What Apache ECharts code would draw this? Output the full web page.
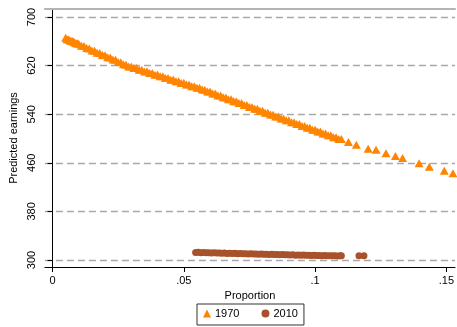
<!DOCTYPE html>
<html><head><meta charset="utf-8">
<script src="https://cdn.jsdelivr.net/npm/echarts@6/dist/echarts.min.js"></script>
<style>html,body{margin:0;padding:0;background:#fff}#c{width:457px;height:327px}</style>
</head><body><div id="c"></div>
<script>
var xTicks = [0, 0.05, 0.1, 0.15];
var xTickLabels = ['0', '.05', '.1', '.15'];
var yTicks = [300, 380, 460, 540, 620, 700];
var yTickLabels = ['300', '380', '460', '540', '620', '700'];
var seriesNames = ['1970', '2010'];

var x1970 = [0.005,0.0055,0.006,0.0065,0.007,0.0075,0.008,0.0085,0.009,0.0095,0.010,0.011,0.012,0.013,0.014,0.015,0.016,0.017,0.018,0.019,0.020,0.021,0.022,0.023,0.024,0.025,0.026,0.027,0.028,0.029,0.030,0.031,0.032,0.033,0.034,0.035,0.036,0.037,0.038,0.039,0.040,0.041,0.042,0.043,0.044,0.045,0.046,0.047,0.048,0.049,0.050,0.051,0.052,0.053,0.054,0.055,0.056,0.057,0.058,0.059,0.060,0.061,0.062,0.063,0.064,0.065,0.066,0.067,0.068,0.069,0.070,0.071,0.072,0.073,0.074,0.075,0.076,0.077,0.078,0.079,0.080,0.081,0.082,0.083,0.084,0.085,0.086,0.087,0.088,0.089,0.090,0.091,0.092,0.093,0.094,0.095,0.096,0.097,0.098,0.099,0.100,0.101,0.102,0.103,0.104,0.105,0.106,0.107,0.108,0.109,0.110,0.1127,0.1157,0.1202,0.1232,0.1270,0.1306,0.1333,0.1396,0.1435,0.1492,0.1525];
var y1970 = [665.8,663.6,663.5,661.9,661.0,660.6,659.9,657.9,657.0,656.9,655.9,652.8,652.1,648.8,648.3,644.9,644.6,641.3,640.9,637.5,637.0,633.6,633.3,629.9,629.5,626.1,625.7,622.2,621.6,618.7,618.6,615.9,615.9,613.1,613.3,610.4,610.6,607.7,607.8,605.0,605.2,602.3,602.3,599.6,599.6,596.9,597.0,594.2,594.3,591.5,591.6,588.8,588.9,586.0,586.2,583.4,583.5,580.5,580.4,577.3,577.2,574.1,574.1,571.0,570.9,567.8,567.7,564.6,564.6,561.5,561.4,558.3,558.3,555.2,555.1,552.0,551.9,548.9,548.8,545.7,545.6,542.5,542.5,539.4,539.3,536.2,536.2,533.1,533.1,530.0,530.0,526.9,526.9,523.8,523.8,520.8,520.7,517.7,517.6,514.6,514.6,511.5,511.5,508.4,508.4,505.3,505.3,502.2,502.2,499.1,499.1,494.2,489.8,483.2,481.6,475.6,471.2,467.9,459.2,453.6,447.0,442.7];

var x2010 = [0.0545,0.0555,0.0565,0.0575,0.0585,0.0595,0.0605,0.0615,0.0625,0.0635,0.0645,0.0655,0.0665,0.0675,0.0685,0.0695,0.0705,0.0715,0.0725,0.0735,0.0745,0.0755,0.0765,0.0775,0.0785,0.0795,0.0805,0.0815,0.0825,0.0835,0.0845,0.0855,0.0865,0.0875,0.0885,0.0895,0.0905,0.0915,0.0925,0.0935,0.0945,0.0955,0.0965,0.0975,0.0985,0.0995,0.1005,0.1015,0.1025,0.1035,0.1045,0.1055,0.1065,0.1075,0.1085,0.1095,0.1100,0.1167,0.1186];
var y2010 = [312.4,312.6,312.1,312.3,311.8,312.0,311.6,311.9,311.4,311.7,311.2,311.4,310.9,311.2,310.7,311.0,310.5,310.7,310.3,310.5,310.0,310.3,309.8,310.1,309.6,309.9,309.4,309.6,309.1,309.4,308.9,309.2,308.7,309.0,308.5,308.7,308.3,308.5,308.0,308.3,307.8,308.1,307.7,307.9,307.5,307.7,307.3,307.5,307.1,307.4,307.0,307.2,306.9,307.1,306.8,307.0,306.9,306.9,306.9];

function pairs(xs, ys){ return xs.map(function(x,i){ return [x, ys[i]]; }); }

var FONT = '"Liberation Sans", Arial, Helvetica, sans-serif';
var chart = echarts.init(document.getElementById('c'), null, {renderer:'canvas'});
chart.setOption({
  animation: false,
  backgroundColor: '#ffffff',
  textStyle: {fontFamily: FONT},
  grid: {left: 43, right: 0, top: 9, bottom: 60, containLabel: false},
  legend: {
    data: [
      {name: seriesNames[0], icon: 'triangle'},
      {name: seriesNames[1], icon: 'circle'}
    ],
    left: 197, top: 304,
    orient: 'horizontal',
    itemWidth: 8, itemHeight: 8, itemGap: 22,
    padding: [4, 6, 6, 6],
    borderColor: '#333', borderWidth: 1,
    textStyle: {fontFamily: FONT, fontSize: 11, color: '#000', padding: [0,0,0,-1]}
  },
  xAxis: [{
    type: 'value', min: -0.0029, max: 0.1533,
    name: 'Proportion', nameLocation: 'middle', nameGap: 23,
    nameTextStyle: {fontFamily: FONT, fontSize: 11, color: '#000'},
    axisLine: {show: true, lineStyle: {color: '#000', width: 1}},
    axisTick: {show: true, length: 5, lineStyle: {color: '#000'}, customValues: xTicks},
    axisLabel: {show: true, fontSize: 11, color: '#000', margin: 8, customValues: xTicks,
      formatter: function(v){ var i = xTicks.indexOf(v); return i >= 0 ? xTickLabels[i] : ''; }},
    splitLine: {show: false}
  }, {
    type: 'value', position: 'top', min: -0.0029, max: 0.1533,
    axisLine: {show: true, onZero: false, lineStyle: {color: '#b4b4b4', width: 2}},
    axisTick: {show: false}, axisLabel: {show: false}, splitLine: {show: false}
  }],
  yAxis: {
    type: 'value', min: 288.5, max: 713.2,
    name: 'Predicted earnings', nameLocation: 'middle', nameGap: 25,
    nameTextStyle: {fontFamily: FONT, fontSize: 11, color: '#000'},
    axisLine: {show: true, lineStyle: {color: '#000', width: 1}},
    axisTick: {show: true, length: 5, lineStyle: {color: '#000'}, customValues: yTicks},
    axisLabel: {show: true, rotate: 90, fontSize: 11, color: '#000', margin: 7, customValues: yTicks,
      formatter: function(v){ var i = yTicks.indexOf(v); return i >= 0 ? yTickLabels[i] : ''; }},
    splitLine: {show: true, lineStyle: {color: '#a8a8a8', width: 1.3, type: [7, 4]}}
  },
  series: [{
    name: seriesNames[0], type: 'scatter', symbol: 'triangle', symbolSize: [9, 8],
    itemStyle: {color: '#ff8400', opacity: 1},
    data: pairs(x1970, y1970), z: 3
  }, {
    name: seriesNames[1], type: 'scatter', symbol: 'circle', symbolSize: 7,
    itemStyle: {color: '#a8522c', opacity: 1},
    data: pairs(x2010, y2010), z: 3
  }]
});
</script></body></html>
